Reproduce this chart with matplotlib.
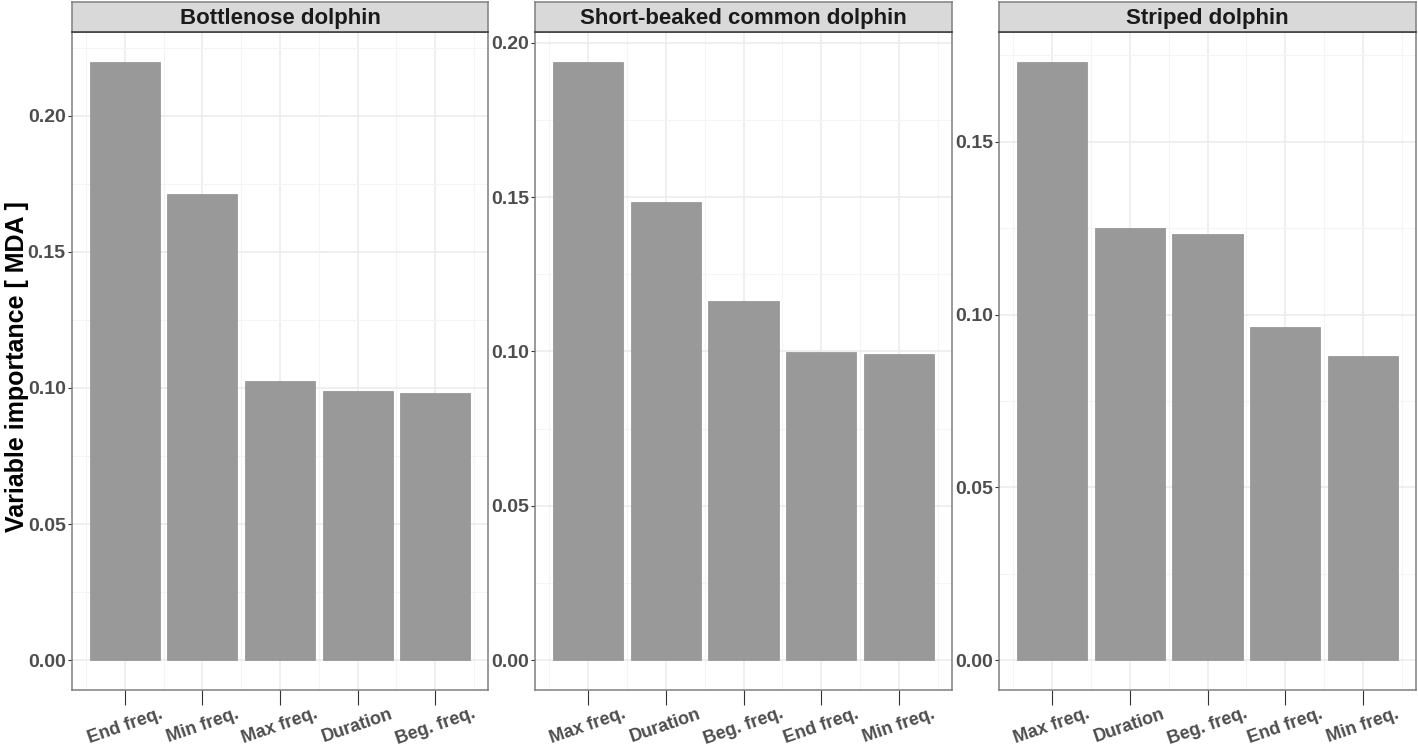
import matplotlib.pyplot as plt
import numpy as np

# panel titles, categories (in plotted order) and values
species = ["Bottlenose dolphin", "Short-beaked common dolphin", "Striped dolphin"]
cats_bottlenose = ["End freq.", "Min freq.", "Max freq.", "Duration", "Beg. freq."]
vals_bottlenose = [0.2198, 0.1714, 0.1024, 0.0990, 0.0983]
cats_common = ["Max freq.", "Duration", "Beg. freq.", "End freq.", "Min freq."]
vals_common = [0.1938, 0.1485, 0.1163, 0.0997, 0.0993]
cats_striped = ["Max freq.", "Duration", "Beg. freq.", "End freq.", "Min freq."]
vals_striped = [0.1731, 0.1251, 0.1234, 0.0965, 0.0880]

W, H = 1418, 746
fig = plt.figure(figsize=(W / 100, H / 100), dpi=100)
plt.rcParams['font.family'] = ['Liberation Sans', 'DejaVu Sans']

panels_px = [(72, 488), (535, 952), (999, 1416)]
top, bottom, strip_top = 32, 690, 2

data = [(cats_bottlenose, vals_bottlenose), (cats_common, vals_common), (cats_striped, vals_striped)]

for (x0, x1), title, (cats, vals) in zip(panels_px, species, data):
    ax = fig.add_axes([x0 / W, (H - bottom) / H, (x1 - x0) / W, (bottom - top) / H])
    x = np.arange(1, len(cats) + 1)
    vmax = max(vals)
    ax.set_xlim(0.32, len(cats) + 0.68)
    ax.set_ylim(-0.05 * vmax, 1.05 * vmax)
    yt = np.arange(0, 1.05 * vmax, 0.05)
    ax.set_yticks(yt)
    ax.set_yticks(np.arange(0.025, vmax * 1.05, 0.05), minor=True)
    ax.set_xticks(x)
    ax.set_xticks(np.arange(0.5, len(cats) + 1, 1.0), minor=True)
    ax.grid(which='major', color='#EBEBEB', lw=1.1, zorder=0)
    ax.grid(which='minor', color='#F4F4F4', lw=0.8, zorder=0)
    ax.set_axisbelow(True)
    ax.bar(x, vals, width=0.9, color='#999999', edgecolor='#8f8f8f', lw=0.5, zorder=2)
    ax.set_yticklabels(["%.2f" % v for v in yt], fontsize=14, fontweight='bold', color='#4D4D4D')
    ax.set_xticklabels(cats, rotation=19, ha='center', va='top', fontsize=13, fontweight='bold', color='#4D4D4D')
    ax.tick_params(axis='y', which='major', length=3, color='#333333', pad=1.5)
    ax.tick_params(axis='x', which='major', length=11, color='#333333', pad=0)
    ax.tick_params(which='minor', length=0)
    for s in ax.spines.values():
        s.set_color('#7F7F7F')
        s.set_linewidth(1.1)

    sax = fig.add_axes([x0 / W, (H - top) / H, (x1 - x0) / W, (top - strip_top) / H])
    sax.set_facecolor('#D9D9D9')
    sax.set_xticks([])
    sax.set_yticks([])
    for s in sax.spines.values():
        s.set_color('#7F7F7F')
        s.set_linewidth(1.1)
    sax.spines['bottom'].set_color('#333333')
    sax.text(0.5, 0.45, title, ha='center', va='center', fontsize=16, fontweight='bold',
             color='#1A1A1A', transform=sax.transAxes)

fig.text(17 / W, (H - 367) / H, "Variable importance [ MDA ]", rotation=90, ha='center', va='center',
         fontsize=18, fontweight='bold', color='black')

fig.savefig("out.png", dpi=100)
